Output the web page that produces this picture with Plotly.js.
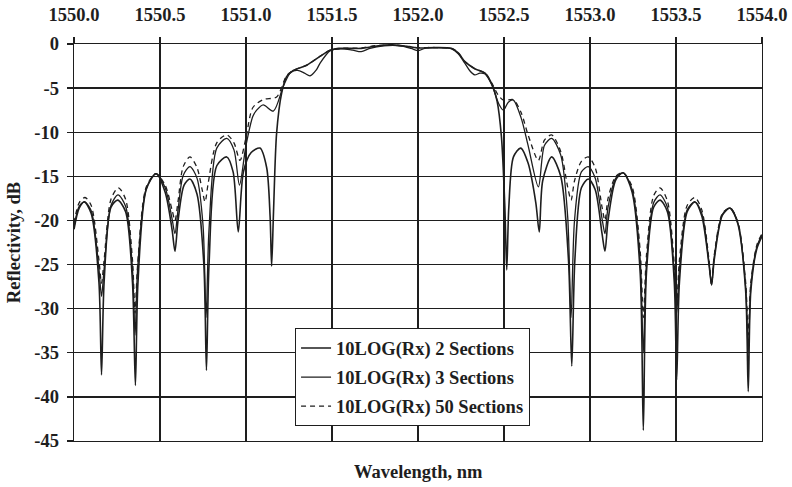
<!DOCTYPE html>
<html>
<head>
<meta charset="utf-8">
<script src="https://cdn.plot.ly/plotly-3.0.1.min.js"></script>
<style>
  html, body { margin: 0; padding: 0; background: #fff; }
  #chart { width: 792px; height: 487px; }
</style>
</head>
<body>
<div id="chart"></div>
<script>
// Reflection spectra of a grating modelled with 2, 3 and 50 uniform sections.
const seriesNames = ['10LOG(Rx) 2 Sections', '10LOG(Rx) 3 Sections', '10LOG(Rx) 50 Sections'];

// Wavelength (nm) and reflectivity (dB), 2 sections
const wl2 = [1550.000, 1550.030, 1550.060, 1550.100, 1550.145, 1550.160, 1550.175, 1550.215, 1550.254, 1550.300,
  1550.340, 1550.357, 1550.372, 1550.420, 1550.477, 1550.530, 1550.570, 1550.587, 1550.605, 1550.640,
  1550.674, 1550.715, 1550.755, 1550.770, 1550.785, 1550.830, 1550.888, 1550.925, 1550.955, 1550.985,
  1551.030, 1551.081, 1551.120, 1551.140, 1551.149, 1551.160, 1551.178, 1551.207, 1551.236, 1551.275,
  1551.353, 1551.430, 1551.490, 1551.550, 1551.670, 1551.750, 1551.850, 1551.950, 1552.000, 1552.100,
  1552.196, 1552.234, 1552.273, 1552.330, 1552.390, 1552.428, 1552.460, 1552.485, 1552.505, 1552.516,
  1552.528, 1552.555, 1552.597, 1552.640, 1552.685, 1552.705, 1552.725, 1552.777, 1552.830, 1552.875,
  1552.894, 1552.912, 1552.950, 1552.990, 1553.030, 1553.070, 1553.087, 1553.105, 1553.150, 1553.193,
  1553.245, 1553.292, 1553.310, 1553.328, 1553.370, 1553.407, 1553.450, 1553.490, 1553.504, 1553.520,
  1553.565, 1553.610, 1553.650, 1553.692, 1553.707, 1553.722, 1553.770, 1553.814, 1553.860, 1553.905,
  1553.920, 1553.935, 1553.970, 1554.000];
const r2 = [-21.0, -18.6, -17.9, -19.2, -27.0, -37.5, -27.0, -18.5, -17.7, -19.0,
  -27.0, -38.7, -27.0, -16.5, -14.7, -16.8, -21.0, -23.5, -20.0, -16.0,
  -15.3, -17.0, -25.0, -37.0, -25.0, -13.8, -12.8, -14.5, -21.3, -14.5,
  -12.3, -11.8, -14.0, -19.5, -25.2, -19.0, -10.1, -5.6, -3.7, -3.0,
  -2.4, -1.4, -0.7, -0.5, -0.5, -0.25, -0.1, -0.3, -0.45, -0.4,
  -0.5, -1.0, -2.0, -2.8, -3.3, -4.5, -6.5, -10.5, -18.5, -25.6,
  -18.5, -12.8, -11.8, -13.5, -18.0, -21.3, -15.5, -12.8, -15.0, -24.5,
  -36.5, -24.5, -16.3, -15.3, -16.5, -21.5, -23.5, -20.0, -15.4, -14.6,
  -16.8, -26.0, -43.8, -26.0, -18.5, -17.7, -19.0, -27.0, -38.1, -27.0,
  -19.0, -17.9, -19.5, -25.0, -27.3, -24.5, -19.4, -18.6, -20.4, -28.0,
  -39.4, -28.0, -23.2, -21.8];

// 3 sections
const wl3 = [1550.000, 1550.030, 1550.062, 1550.100, 1550.145, 1550.160, 1550.175, 1550.215, 1550.256, 1550.300,
  1550.340, 1550.355, 1550.370, 1550.420, 1550.477, 1550.530, 1550.570, 1550.587, 1550.605, 1550.635,
  1550.674, 1550.715, 1550.750, 1550.768, 1550.785, 1550.830, 1550.888, 1550.930, 1550.962, 1551.000,
  1551.040, 1551.062, 1551.100, 1551.159, 1551.217, 1551.260, 1551.300, 1551.340, 1551.372, 1551.410,
  1551.430, 1551.490, 1551.550, 1551.620, 1551.670, 1551.720, 1551.800, 1551.900, 1551.960, 1552.000,
  1552.040, 1552.100, 1552.196, 1552.234, 1552.273, 1552.300, 1552.330, 1552.360, 1552.390, 1552.428,
  1552.470, 1552.496, 1552.525, 1552.554, 1552.600, 1552.640, 1552.700, 1552.735, 1552.777, 1552.830,
  1552.870, 1552.890, 1552.910, 1552.950, 1552.990, 1553.030, 1553.070, 1553.087, 1553.105, 1553.150,
  1553.193, 1553.245, 1553.292, 1553.310, 1553.328, 1553.370, 1553.407, 1553.450, 1553.490, 1553.504,
  1553.520, 1553.565, 1553.610, 1553.650, 1553.692, 1553.707, 1553.722, 1553.770, 1553.814, 1553.860,
  1553.905, 1553.920, 1553.935, 1553.970, 1554.000];
const r3 = [-20.8, -18.4, -17.9, -18.9, -25.5, -28.6, -25.5, -18.3, -17.1, -18.4,
  -25.5, -33.0, -25.5, -16.4, -14.7, -16.3, -19.8, -21.5, -18.8, -14.9,
  -13.9, -15.2, -20.5, -31.0, -21.0, -11.8, -10.7, -12.0, -16.0, -11.5,
  -8.2, -7.5, -6.9, -7.6, -4.8, -3.2, -3.0, -3.3, -3.6, -2.9,
  -2.2, -0.75, -0.55, -0.7, -0.87, -0.5, -0.2, -0.2, -0.5, -0.76,
  -0.5, -0.45, -0.55, -1.1, -2.2, -3.0, -3.5, -3.3, -3.4, -4.6,
  -6.8, -7.5, -6.6, -6.35, -8.4, -11.5, -16.2, -11.5, -10.7, -12.6,
  -19.5, -31.0, -20.0, -14.5, -13.9, -15.2, -19.8, -21.5, -18.5, -15.2,
  -14.6, -16.5, -24.5, -35.0, -25.0, -18.0, -17.1, -18.5, -26.0, -30.5,
  -25.5, -18.8, -17.9, -19.2, -24.8, -27.3, -24.2, -19.3, -18.6, -20.3,
  -27.5, -35.0, -27.5, -23.0, -21.6];

// 50 sections
const wl50 = [1550.000, 1550.030, 1550.064, 1550.100, 1550.145, 1550.160, 1550.175, 1550.215, 1550.258, 1550.300,
  1550.340, 1550.355, 1550.370, 1550.420, 1550.477, 1550.530, 1550.570, 1550.587, 1550.605, 1550.635,
  1550.674, 1550.715, 1550.745, 1550.762, 1550.780, 1550.830, 1550.888, 1550.930, 1550.965, 1551.000,
  1551.040, 1551.100, 1551.178, 1551.236, 1551.275, 1551.353, 1551.430, 1551.490, 1551.550, 1551.670,
  1551.750, 1551.850, 1551.950, 1552.000, 1552.100, 1552.196, 1552.234, 1552.273, 1552.330, 1552.390,
  1552.428, 1552.470, 1552.500, 1552.554, 1552.600, 1552.640, 1552.700, 1552.735, 1552.777, 1552.830,
  1552.870, 1552.890, 1552.910, 1552.950, 1552.990, 1553.030, 1553.070, 1553.087, 1553.105, 1553.150,
  1553.193, 1553.245, 1553.292, 1553.310, 1553.328, 1553.370, 1553.407, 1553.450, 1553.490, 1553.504,
  1553.520, 1553.565, 1553.610, 1553.650, 1553.692, 1553.707, 1553.722, 1553.770, 1553.814, 1553.860,
  1553.905, 1553.920, 1553.935, 1553.970, 1554.000];
const r50 = [-20.3, -18.0, -17.4, -18.3, -24.5, -27.1, -24.5, -17.6, -16.3, -17.6,
  -24.5, -30.5, -25.0, -16.2, -14.7, -16.0, -18.8, -20.0, -17.8, -13.9,
  -12.8, -14.0, -16.5, -17.9, -15.8, -11.2, -10.3, -11.2, -13.2, -10.6,
  -7.2, -6.3, -6.0, -3.6, -3.0, -2.4, -1.4, -0.7, -0.5, -0.45,
  -0.2, -0.1, -0.3, -0.4, -0.4, -0.5, -1.0, -2.0, -2.8, -3.3,
  -4.4, -5.9, -6.4, -6.3, -7.8, -10.3, -13.2, -10.9, -10.3, -12.2,
  -16.2, -17.7, -15.5, -13.3, -12.8, -14.0, -18.5, -20.0, -17.5, -15.0,
  -14.6, -16.2, -23.5, -31.0, -24.0, -17.2, -16.3, -17.8, -25.0, -29.5,
  -24.5, -18.3, -17.4, -18.8, -24.5, -27.3, -24.0, -19.2, -18.6, -20.2,
  -27.0, -33.0, -27.0, -22.8, -21.5];

// Axis ticks
const xTickVals = [1550.0, 1550.5, 1551.0, 1551.5, 1552.0, 1552.5, 1553.0, 1553.5, 1554.0];
const xTickLabels = ['1550.0', '1550.5', '1551.0', '1551.5', '1552.0', '1552.5', '1553.0', '1553.5', '1554.0'];
const yTickVals = [0, -5, -10, -15, -20, -25, -30, -35, -40, -45];
const yTickLabels = ['0', '-5', '-10', '-15', '-20', '-25', '-30', '-35', '-40', '-45'];

const serif = '"Liberation Serif", "Times New Roman", serif';
const ink = '#1e1e1e';
const textSize = 18.5;

const lineBase = { shape: 'spline', smoothing: 0.8, width: 1.5, color: ink };

const traces = [
  { x: wl2, y: r2, name: seriesNames[0], legendgroup: 'a', line: Object.assign({}, lineBase, { width: 1.6 }) },
  { x: wl3, y: r3, name: seriesNames[1], legendgroup: 'b', line: Object.assign({}, lineBase, { width: 1.3 }) },
  { x: wl50, y: r50, name: seriesNames[2], legendgroup: 'c', line: Object.assign({}, lineBase, { width: 1.3, dash: '5px,4px' }) }
].map(t => Object.assign({ type: 'scatter', mode: 'lines', hoverinfo: 'skip' }, t));

const boldFont = { family: serif, size: textSize, color: ink, weight: 'bold' };

const layout = {
  width: 792,
  height: 487,
  margin: { l: 74, r: 30, t: 44, b: 46 },
  paper_bgcolor: '#ffffff',
  plot_bgcolor: '#ffffff',
  font: boldFont,
  showlegend: true,
  legend: {
    x: 0.321, y: 0.284, xanchor: 'left', yanchor: 'top',
    bgcolor: '#ffffff', bordercolor: ink, borderwidth: 1.2,
    font: boldFont,
    traceorder: 'grouped', tracegroupgap: 2,
    itemwidth: 30
  },
  xaxis: {
    side: 'top',
    range: [1550, 1554],
    tickmode: 'array', tickvals: xTickVals, ticktext: xTickLabels,
    ticks: 'outside', ticklen: 6, tickwidth: 1.3, tickcolor: ink,
    ticklabelstandoff: 8,
    tickfont: boldFont,
    showgrid: true, gridcolor: ink, gridwidth: 1.4,
    showline: true, linecolor: ink, linewidth: 1.4, mirror: true,
    zeroline: false, fixedrange: true
  },
  yaxis: {
    range: [-45, 0],
    tickmode: 'array', tickvals: yTickVals, ticktext: yTickLabels,
    ticks: 'outside', ticklen: 6, tickwidth: 1.3, tickcolor: ink,
    ticklabelstandoff: 4,
    tickfont: boldFont,
    showgrid: true, gridcolor: ink, gridwidth: 1.4,
    showline: true, linecolor: ink, linewidth: 1.4, mirror: true,
    zeroline: false, fixedrange: true,
    title: { text: 'Reflectivity, dB', font: boldFont, standoff: 8 }
  },
  annotations: [{
    text: 'Wavelength, nm',
    xref: 'paper', yref: 'paper', x: 0.5, y: -0.078,
    xanchor: 'center', yanchor: 'middle', showarrow: false,
    font: boldFont
  }]
};

Plotly.newPlot('chart', traces, layout, { staticPlot: true, displayModeBar: false });
</script>
</body>
</html>
